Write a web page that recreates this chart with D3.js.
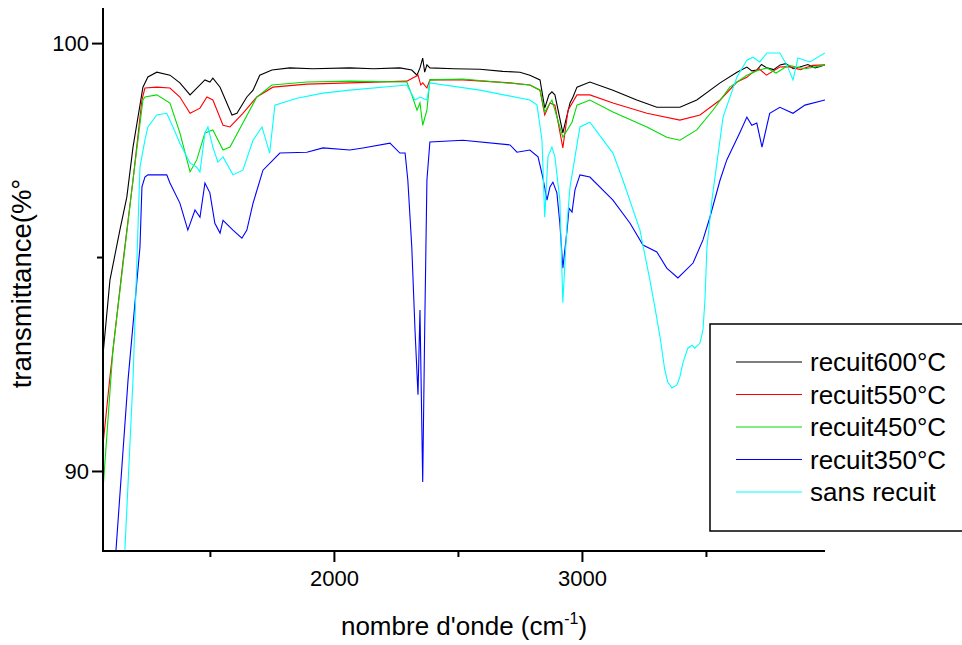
<!DOCTYPE html>
<html>
<head>
<meta charset="utf-8">
<script src="https://cdn.jsdelivr.net/npm/d3@7"></script>
<style>
  body { margin: 0; background: #fff; }
  text { font-family: "Liberation Sans", Arial, sans-serif; fill: #000; }
</style>
</head>
<body>
<script>
// spectra, [wavenumber cm-1, transmittance %]
var recuit600 = [
  [1069, 92.71], [1097, 94.46], [1137, 95.63], [1165, 96.40], [1190, 97.57], [1230, 98.97],
  [1250, 99.21], [1286, 99.32], [1339, 99.25], [1379, 99.07], [1420, 98.79], [1447, 98.95],
  [1480, 99.14], [1500, 99.09], [1512, 99.18], [1541, 98.97], [1589, 98.32], [1609, 98.36],
  [1649, 98.74], [1674, 98.90], [1701, 99.25], [1750, 99.37], [1822, 99.42], [1914, 99.40],
  [2064, 99.42], [2160, 99.40], [2266, 99.42], [2314, 99.37], [2335, 99.25], [2347, 99.42],
  [2358, 99.65], [2366, 99.32], [2375, 99.49], [2387, 99.42], [2484, 99.40], [2589, 99.39],
  [2681, 99.34], [2750, 99.32], [2790, 99.25], [2831, 99.14], [2850, 98.48], [2867, 98.79],
  [2879, 98.86], [2891, 98.79], [2923, 97.90], [2952, 98.60], [2964, 98.74], [2980, 98.97],
  [3032, 99.09], [3125, 98.90], [3221, 98.67], [3302, 98.50], [3395, 98.50], [3463, 98.67],
  [3557, 99.07], [3625, 99.32], [3665, 99.44], [3685, 99.35], [3705, 99.37], [3724, 99.50],
  [3746, 99.42], [3773, 99.38], [3799, 99.49], [3822, 99.52], [3852, 99.40], [3878, 99.44],
  [3911, 99.50], [3940, 99.42], [3980, 99.49]
];
var recuit550 = [
  [1069, 90.61], [1097, 92.20], [1149, 94.86], [1190, 96.80], [1226, 98.67], [1238, 98.95],
  [1286, 98.97], [1339, 98.95], [1379, 98.74], [1420, 98.36], [1460, 98.48], [1488, 98.74],
  [1512, 98.67], [1553, 98.08], [1581, 98.04], [1633, 98.36], [1689, 98.74], [1754, 98.97],
  [1891, 99.04], [2064, 99.07], [2294, 99.11], [2339, 99.25], [2350, 99.02], [2358, 99.07],
  [2375, 98.95], [2387, 99.14], [2520, 99.14], [2710, 99.07], [2790, 99.02], [2831, 98.90],
  [2850, 98.32], [2871, 98.60], [2891, 98.55], [2923, 97.55], [2944, 98.43], [2980, 98.79],
  [3032, 98.79], [3125, 98.60], [3262, 98.36], [3395, 98.20], [3476, 98.32], [3557, 98.67],
  [3625, 99.09], [3665, 99.20], [3690, 99.32], [3714, 99.40], [3744, 99.25], [3798, 99.44],
  [3832, 99.45], [3881, 99.38], [3931, 99.48], [3980, 99.49]
];
var recuit450 = [
  [1069, 89.56], [1109, 92.83], [1190, 96.80], [1230, 98.67], [1238, 98.74], [1286, 98.79],
  [1339, 98.60], [1379, 97.90], [1420, 96.99], [1447, 97.27], [1480, 97.90], [1512, 97.97],
  [1553, 97.50], [1581, 97.57], [1633, 98.13], [1689, 98.74], [1750, 99.02], [1891, 99.09],
  [2064, 99.11], [2294, 99.09], [2314, 98.79], [2335, 98.43], [2347, 98.60], [2358, 98.08],
  [2375, 98.43], [2387, 99.14], [2520, 99.16], [2790, 99.02], [2831, 98.90], [2850, 98.39],
  [2879, 98.67], [2923, 97.80], [2960, 98.15], [2980, 98.55], [3032, 98.67], [3125, 98.39],
  [3262, 98.04], [3342, 97.80], [3395, 97.73], [3463, 97.97], [3528, 98.43], [3596, 98.97],
  [3665, 99.25], [3704, 99.35], [3746, 99.42], [3783, 99.30], [3832, 99.48], [3901, 99.40],
  [3980, 99.49]
];
var recuit350 = [
  [1109, 87.14], [1170, 92.13], [1218, 95.23], [1226, 96.64], [1238, 96.87], [1250, 96.92],
  [1326, 96.92], [1339, 96.73], [1379, 96.26], [1411, 95.63], [1440, 96.10], [1460, 95.93],
  [1480, 96.73], [1500, 96.50], [1520, 95.79], [1541, 95.56], [1553, 95.86], [1593, 95.63],
  [1629, 95.44], [1649, 95.63], [1674, 96.26], [1714, 97.03], [1782, 97.43], [1891, 97.45],
  [1956, 97.55], [2064, 97.50], [2117, 97.55], [2226, 97.66], [2266, 97.43], [2287, 97.43],
  [2298, 96.80], [2314, 95.23], [2327, 93.29], [2339, 91.78], [2347, 93.76], [2358, 89.74],
  [2366, 93.29], [2375, 96.80], [2387, 97.69], [2520, 97.73], [2710, 97.62], [2738, 97.45],
  [2790, 97.50], [2823, 97.34], [2842, 96.87], [2859, 96.33], [2871, 96.64], [2883, 96.75],
  [2899, 96.50], [2911, 95.79], [2923, 94.74], [2940, 95.63], [2948, 96.14], [2960, 96.05],
  [2972, 96.57], [2992, 96.92], [3032, 96.87], [3125, 96.33], [3194, 95.79], [3246, 95.28],
  [3302, 95.12], [3342, 94.74], [3387, 94.51], [3448, 94.86], [3488, 95.40], [3516, 95.93],
  [3557, 96.80], [3584, 97.27], [3636, 97.90], [3665, 98.27], [3685, 98.08], [3705, 98.13],
  [3726, 97.57], [3757, 98.36], [3798, 98.50], [3851, 98.36], [3899, 98.55], [3980, 98.67]
];
var sansRecuit = [
  [1137, 85.70], [1190, 92.13], [1218, 97.10], [1238, 97.73], [1250, 98.04], [1286, 98.32],
  [1326, 98.36], [1351, 98.04], [1379, 97.66], [1420, 97.20], [1447, 97.10], [1460, 96.99],
  [1480, 97.90], [1492, 98.04], [1512, 97.57], [1532, 97.22], [1553, 97.34], [1593, 96.92],
  [1633, 97.03], [1674, 97.73], [1710, 98.04], [1741, 97.43], [1762, 98.55], [1851, 98.71],
  [1956, 98.83], [2064, 98.90], [2294, 99.02], [2327, 98.67], [2347, 98.74], [2375, 98.67],
  [2387, 99.07], [2589, 98.90], [2790, 98.67], [2819, 98.55], [2839, 97.73], [2850, 95.93],
  [2863, 97.34], [2879, 97.57], [2891, 97.34], [2911, 96.33], [2923, 93.93], [2940, 95.79],
  [2952, 96.64], [2972, 97.34], [2992, 98.04], [3032, 98.15], [3125, 97.43], [3165, 96.80],
  [3234, 95.63], [3274, 94.46], [3294, 93.83], [3315, 93.13], [3334, 92.36], [3346, 92.08],
  [3363, 91.94], [3383, 92.01], [3395, 92.20], [3407, 92.52], [3427, 92.87], [3444, 92.94],
  [3455, 92.87], [3476, 92.99], [3488, 93.29], [3496, 94.00], [3504, 95.23], [3524, 96.33],
  [3569, 98.27], [3625, 99.21], [3665, 99.60], [3690, 99.67], [3717, 99.56], [3746, 99.77],
  [3798, 99.77], [3826, 99.49], [3851, 99.14], [3871, 99.65], [3919, 99.56], [3980, 99.77]
];

var seriesNames = ['recuit600°C', 'recuit550°C', 'recuit450°C', 'recuit350°C', 'sans recuit'];
var seriesData = [recuit600, recuit550, recuit450, recuit350, sansRecuit];
var seriesColors = ['#000000', '#ff0000', '#00dd00', '#0000ff', '#00ffff'];

var xMajorTicks = [2000, 3000];
var xMinorTicks = [1500, 2500, 3500];
var yMajorTicks = [90, 100];
var yMinorTicks = [95];

var margin = { top: 8, right: 137, bottom: 94, left: 103 },
  width = 962 - margin.left - margin.right,
  height = 645 - margin.top - margin.bottom;

var x = d3.scaleLinear()
  .domain([1069, 3980])
  .range([0, width]);

var y = d3.scaleLinear()
  .domain([88.13, 100.82])
  .range([height, 0]);

var svg = d3.select('body').append('svg')
  .attr('width', 962)
  .attr('height', 645)
  .append('g')
  .attr('transform', 'translate(' + margin.left + ',' + margin.top + ')');

svg.append('clipPath')
  .attr('id', 'plot-clip')
  .append('rect')
  .attr('width', width)
  .attr('height', height);

var line = d3.line()
  .x(function (d) { return x(d[0]); })
  .y(function (d) { return y(d[1]); });

svg.append('g')
  .attr('clip-path', 'url(#plot-clip)')
  .selectAll('.spectre')
  .data(seriesData)
  .enter().append('path')
  .attr('class', 'spectre')
  .attr('d', line)
  .attr('fill', 'none')
  .attr('stroke-width', 1.1)
  .attr('stroke', function (d, i) { return seriesColors[i]; });

// axes: major ticks labelled, minor ones bare
function styleAxis(g) {
  g.select('.domain').remove();
  g.selectAll('.tick line').attr('stroke', '#000').attr('stroke-width', 2);
  g.selectAll('.tick text').style('font-size', '22px');
}

svg.append('g')
  .attr('transform', 'translate(0,' + height + ')')
  .call(d3.axisBottom(x).tickValues(xMajorTicks).tickSize(11).tickPadding(8).tickFormat(d3.format('d')))
  .call(styleAxis);

svg.append('g')
  .attr('transform', 'translate(0,' + height + ')')
  .call(d3.axisBottom(x).tickValues(xMinorTicks).tickSize(6).tickFormat(''))
  .call(styleAxis);

svg.append('g')
  .call(d3.axisLeft(y).tickValues(yMajorTicks).tickSize(11).tickPadding(3).tickFormat(d3.format('d')))
  .call(styleAxis);

svg.append('g')
  .call(d3.axisLeft(y).tickValues(yMinorTicks).tickSize(6).tickFormat(''))
  .call(styleAxis);

svg.append('path')
  .attr('d', 'M0,0V' + height + 'H' + width)
  .attr('fill', 'none')
  .attr('stroke', '#000')
  .attr('stroke-width', 2);

var xTitle = svg.append('text')
  .attr('x', width / 2)
  .attr('y', height + 84)
  .attr('text-anchor', 'middle')
  .style('font-size', '26px');
xTitle.append('tspan').text("nombre d'onde (cm");
xTitle.append('tspan').attr('dy', -11).style('font-size', '16px').text('-1');
xTitle.append('tspan').attr('dy', 11).text(')');

svg.append('text')
  .attr('transform', 'translate(' + (-72) + ',' + (height / 2 + 4) + ') rotate(-90)')
  .attr('text-anchor', 'middle')
  .style('font-size', '27.5px')
  .text('transmittance(%°');

// legend
var legend = svg.append('g')
  .attr('transform', 'translate(' + (710 - margin.left) + ',' + (324 - margin.top) + ')');

legend.append('rect')
  .attr('width', 270)
  .attr('height', 207)
  .attr('fill', '#fff')
  .attr('stroke', '#000')
  .attr('stroke-width', 1.5);

var item = legend.selectAll('.item')
  .data(seriesNames)
  .enter().append('g')
  .attr('class', 'item')
  .attr('transform', function (d, i) { return 'translate(0,' + (38 + i * 32.5) + ')'; });

item.append('line')
  .attr('x1', 26)
  .attr('x2', 92)
  .attr('stroke-width', 1.1)
  .attr('stroke', function (d, i) { return seriesColors[i]; });

item.append('text')
  .attr('x', 100)
  .attr('dy', '0.36em')
  .style('font-size', '26px')
  .text(function (d) { return d; });
</script>
</body>
</html>
